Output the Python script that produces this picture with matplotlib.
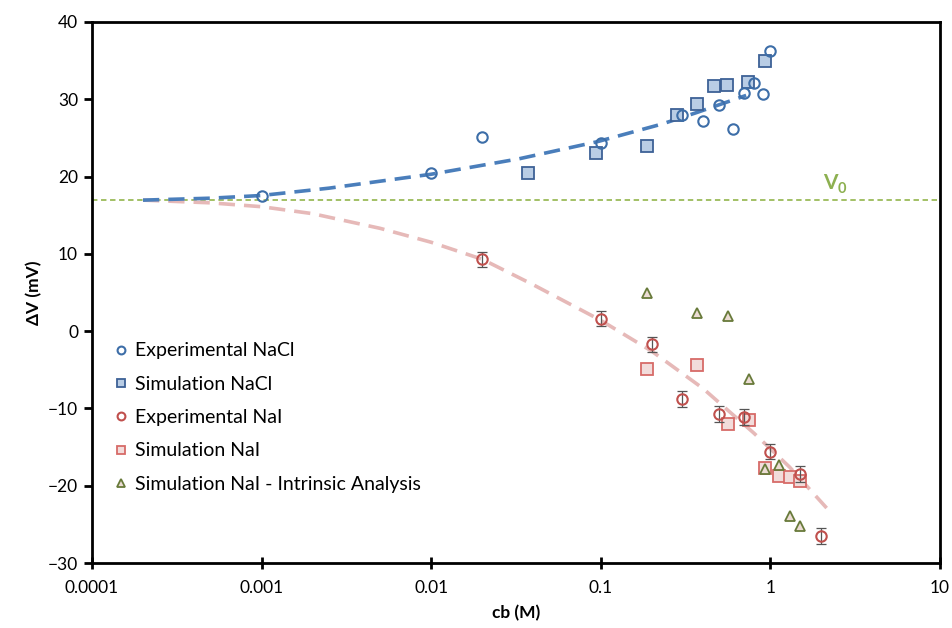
import numpy as np
import matplotlib
matplotlib.use("Agg")
import matplotlib.pyplot as plt

plt.rcParams['font.family'] = ['Lato', 'DejaVu Sans']

# data
exp_nacl_x = [0.001, 0.01, 0.02, 0.1, 0.3, 0.4, 0.5, 0.6, 0.7, 0.8, 0.9, 1.0]
exp_nacl_y = [17.5, 20.4, 25.1, 24.3, 27.9, 27.2, 29.2, 26.1, 30.8, 32.1, 30.7, 36.2]

sim_nacl_x = [0.037, 0.094, 0.187, 0.28, 0.37, 0.465, 0.555, 0.74, 0.93]
sim_nacl_y = [20.4, 23.0, 23.9, 28.0, 29.4, 31.7, 31.8, 32.2, 34.9]

exp_nai_x = [0.02, 0.1, 0.2, 0.3, 0.5, 0.7, 1.0, 1.5, 2.0]
exp_nai_y = [9.3, 1.6, -1.7, -8.8, -10.7, -11.1, -15.6, -18.5, -26.5]
exp_nai_err = [1.0, 1.0, 1.0, 1.0, 1.0, 1.0, 1.0, 1.0, 1.0]

sim_nai_x = [0.187, 0.37, 0.56, 0.75, 0.93, 1.12, 1.31, 1.5]
sim_nai_y = [-4.9, -4.4, -12.0, -11.5, -17.7, -18.8, -18.9, -19.4]

intr_x = [0.187, 0.37, 0.56, 0.75, 0.93, 1.12, 1.31, 1.5]
intr_y = [4.9, 2.4, 2.0, -6.2, -17.9, -17.3, -23.9, -25.2]

fit_nacl_x = [0.0002, 0.0005, 0.001, 0.0025, 0.01, 0.033, 0.095, 0.23, 0.37, 0.72]
fit_nacl_y = [16.95, 17.2, 17.55, 18.5, 20.3, 22.3, 24.5, 26.8, 28.3, 30.5]

fit_nai_x = [0.0002, 0.0005, 0.001, 0.002, 0.005, 0.01, 0.02, 0.04, 0.1, 0.2, 0.4, 0.8, 1.3, 2.15]
fit_nai_y = [16.95, 16.6, 16.1, 15.2, 13.3, 11.5, 9.3, 6.0, 1.4, -2.6, -7.4, -13.2, -17.6, -22.9]

V0 = 17.0

fig = plt.figure(figsize=(9.53, 6.28), dpi=100)
ax = fig.add_axes([0.0965, 0.1035, 0.8898, 0.8615])

ax.axhline(V0, color='#9bbb59', lw=1.3, dashes=(3, 2), zorder=1)
ax.plot(fit_nai_x, fit_nai_y, color='#e6b9b8', lw=2.6, dashes=(4.5, 2.5), zorder=2)
ax.plot(fit_nacl_x, fit_nacl_y, color='#4a7ebb', lw=2.6, dashes=(4.5, 2.5), zorder=2)

ax.plot(exp_nacl_x, exp_nacl_y, 'o', ms=7.5, mfc='none', mec='#3d6ea8', mew=1.5,
        label='Experimental NaCl', zorder=4)
ax.plot(sim_nacl_x, sim_nacl_y, 's', ms=8.5, mfc='#b9cde5', mec='#3d6196', mew=1.3,
        label='Simulation NaCl', zorder=3)
ax.errorbar(exp_nai_x, exp_nai_y, yerr=exp_nai_err, fmt='none', ecolor='#555555',
            elinewidth=0.9, capsize=3.5, capthick=0.9, zorder=4)
ax.plot(exp_nai_x, exp_nai_y, 'o', ms=7.5, mfc='none', mec='#c0504d', mew=1.5,
        label='Experimental NaI', zorder=5)
ax.plot(sim_nai_x, sim_nai_y, 's', ms=8.5, mfc='#f2dcdb', mec='#d76b68', mew=1.3,
        label='Simulation NaI', zorder=3)
ax.plot(intr_x, intr_y, '^', ms=7.5, mfc='#ecdcd4', mec='#687a3a', mew=1.3,
        label='Simulation NaI - Intrinsic Analysis', zorder=4)

ax.set_xscale('log')
ax.set_xlim(0.0001, 10)
ax.set_ylim(-30, 40)
ax.set_xticks([0.0001, 0.001, 0.01, 0.1, 1, 10])
ax.set_xticklabels(['0.0001', '0.001', '0.01', '0.1', '1', '10'])
ax.xaxis.set_minor_locator(matplotlib.ticker.NullLocator())
ax.set_yticks(np.arange(-30, 41, 10))

for s in ax.spines.values():
    s.set_linewidth(2)
    s.set_color('black')
ax.tick_params(axis='x', direction='inout', length=9, width=2, labelsize=12.5, pad=8)
ax.tick_params(axis='y', direction='out', length=6, width=2, labelsize=12.5, pad=4)

ax.set_xlabel('cb (M)', fontsize=12.5, fontweight='bold', labelpad=6)
ax.set_ylabel('ΔV (mV)', fontsize=12.5, fontweight='bold', labelpad=4)

# V0 label
ax.text(2.05, 18.4, 'V', color='#8db050', fontsize=15, fontweight='bold')
ax.text(2.5, 17.9, '0', color='#8db050', fontsize=10.5, fontweight='bold')

ax.legend(loc='upper left', bbox_to_anchor=(0.0, 0.44), frameon=False, fontsize=14,
          handletextpad=0.1, labelspacing=0.84, markerscale=0.75, handlelength=1.2)

fig.savefig('out.png', dpi=100)
